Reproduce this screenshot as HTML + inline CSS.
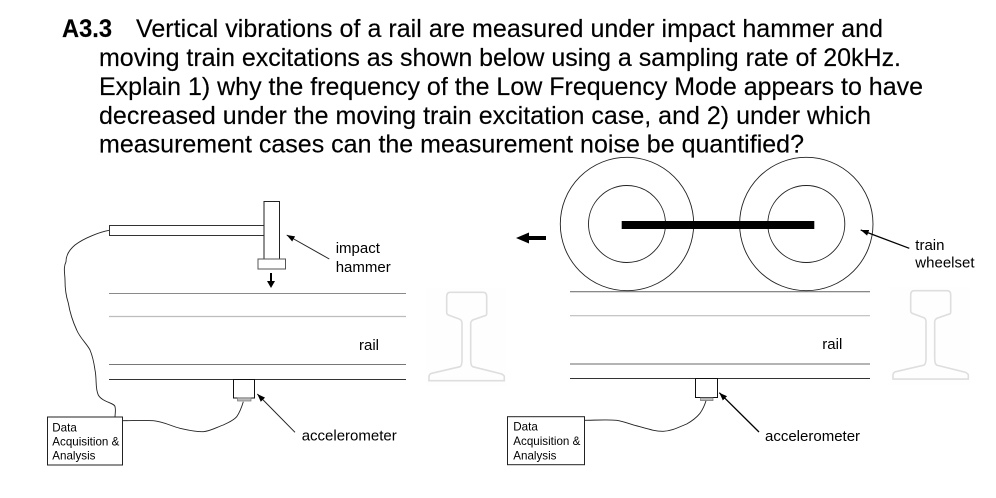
<!DOCTYPE html>
<html><head><meta charset="utf-8"><style>
html,body{margin:0;padding:0;background:#fff;width:996px;height:498px;overflow:hidden}
svg{display:block}
text{font-family:"Liberation Sans",sans-serif;fill:#000}
.t{font-size:25px;stroke:#000;stroke-width:.15px}
.l{font-size:15px}
.d{font-size:11.6px}
</style></head><body>
<svg width="996" height="498" viewBox="0 0 996 498" xmlns="http://www.w3.org/2000/svg">
<defs>
<marker id="a" markerWidth="9" markerHeight="8" refX="8" refY="3" orient="auto" markerUnits="userSpaceOnUse"><path d="M0,0L8,3L0,6z" fill="#000"/></marker>
</defs>
<text class="t" x="62" y="37" font-weight="bold" textLength="50" lengthAdjust="spacingAndGlyphs">A3.3</text>
<text class="t" x="136" y="37" textLength="747">Vertical vibrations of a rail are measured under impact hammer and</text>
<text class="t" x="99" y="66" textLength="802">moving train excitations as shown below using a sampling rate of 20kHz.</text>
<text class="t" x="99" y="95" textLength="824">Explain 1) why the frequency of the Low Frequency Mode appears to have</text>
<text class="t" x="99" y="124" textLength="772">decreased under the moving train excitation case, and 2) under which</text>
<text class="t" x="99" y="152.5" textLength="705">measurement cases can the measurement noise be quantified?</text>

<!-- rail cross sections -->
<rect x="426" y="288" width="80" height="98" fill="#fefefe"/>
<rect x="890" y="287" width="80" height="98" fill="#fefefe"/>
<g fill="none" stroke="#dedede" stroke-width="1.6">
<path d="M446.7,296.7Q446.7,292.3 450,292.3L483.3,292.3Q486.7,292.3 486.7,296.7L486.7,313.3Q486.7,315.7 485,315.7L472.7,320Q470.7,321.5 470.7,323.3L470.7,360Q470.7,365.5 472.7,366.7L501.7,374Q504.3,375.5 504.3,376.7L504.3,380.7L429,380.7L429,376Q430,373.5 431.7,373.3L460,366.7Q462,365.5 462,360L462,323.3Q462,320.5 460,319.3L448.3,315Q446.7,314 446.7,312.7Z"/>
<path transform="translate(464,-1.6)" d="M446.7,296.7Q446.7,292.3 450,292.3L483.3,292.3Q486.7,292.3 486.7,296.7L486.7,313.3Q486.7,315.7 485,315.7L472.7,320Q470.7,321.5 470.7,323.3L470.7,360Q470.7,365.5 472.7,366.7L501.7,374Q504.3,375.5 504.3,376.7L504.3,380.7L429,380.7L429,376Q430,373.5 431.7,373.3L460,366.7Q462,365.5 462,360L462,323.3Q462,320.5 460,319.3L448.3,315Q446.7,314 446.7,312.7Z"/>
</g>

<!-- rails -->
<g stroke-width="1" fill="none">
<path d="M109,293.5H406" stroke="#8a8a8a"/>
<path d="M109,316.5H406" stroke="#bdbdbd" stroke-width="1.2"/>
<path d="M109,364.5H406" stroke="#777"/>
<path d="M109,379.5H406" stroke="#333"/>
<path d="M570,291.7H870" stroke="#777" stroke-width="1.2"/>
<path d="M570,315.7H870" stroke="#bdbdbd" stroke-width="1.2"/>
<path d="M570,364H870" stroke="#888" stroke-width="1.2"/>
<path d="M570,378.5H870" stroke="#333"/>
</g>

<!-- hammer -->
<rect x="109.5" y="225.5" width="154.5" height="10" fill="#fff" stroke="#333"/>
<rect x="264" y="201.5" width="15.5" height="57.5" fill="#fff" stroke="#222"/>
<rect x="258" y="259" width="27.5" height="10" fill="#fff" stroke="#555"/>
<path d="M271,273V282" stroke="#000" stroke-width="2"/>
<path d="M267,281H275L271,288z" fill="#000"/>

<!-- accelerometers -->
<rect x="233.5" y="379.5" width="21" height="18.5" fill="#fff" stroke="#111"/>
<rect x="237.5" y="398" width="13.5" height="3" fill="#bbb" stroke="#777" stroke-width=".7"/>
<rect x="695.5" y="378.5" width="22" height="19" fill="#fff" stroke="#111"/>
<rect x="700.5" y="397.8" width="12.5" height="2.8" fill="#bbb" stroke="#777" stroke-width=".7"/>

<!-- cables -->
<g fill="none" stroke="#222" stroke-width=".9">
<path d="M109,230.3C100,232 84,238 75,245C69,250 66,255 66,261.7C63,268 65,274 65,280C65,288 66,296 68.3,303C70,313 73,322 76.7,330C80,338 87,344 90,350C93,357 94,363 95,370C97,380 95,388 98.3,395C102,402 115,403 115,406.7C116,410 115,414 115,417"/>
<path d="M121,420.7C132,420.7 143,420 153.3,420.7C163,421.5 171,426 180,428.3C188,430 195,432 203.3,431.7C211,431 217,427 223.3,425C229,422 233,421 236.7,416.7C240,412 242,406 243.3,401.7"/>
<path d="M582.7,420.3C594,420.3 606,419.5 616.7,420.3C625,421.5 632,425 640,426.7C648,429 656,431.5 663.3,431.3C672,431 679,427 686.7,424C692,421 697,417 700,413.3C703,409 705,404 706,400.7"/>
</g>

<!-- DAQ boxes -->
<rect x="47.5" y="417" width="75" height="48" fill="#fff" stroke="#222"/>
<rect x="507.5" y="416.7" width="77" height="48" fill="#fff" stroke="#222"/>
<text class="d" x="52.3" y="431.7">Data</text>
<text class="d" x="52.3" y="445.7">Acquisition &amp;</text>
<text class="d" x="52.3" y="459.3">Analysis</text>
<text class="d" x="513.3" y="430.7">Data</text>
<text class="d" x="513.3" y="445">Acquisition &amp;</text>
<text class="d" x="513.3" y="459.7">Analysis</text>

<!-- wheels -->
<g fill="none" stroke="#222" stroke-width=".9">
<circle cx="627" cy="224" r="66.7"/>
<circle cx="627" cy="224" r="38.5"/>
<circle cx="806.3" cy="224" r="66.7"/>
<circle cx="806.3" cy="224" r="38.5"/>
</g>
<rect x="621.7" y="221" width="192.6" height="8" fill="#000"/>
<path d="M546,238H527" stroke="#000" stroke-width="4"/>
<path d="M516,238L529,232.5V243.5z" fill="#000"/>

<!-- leaders -->
<g stroke="#222" fill="none">
<path d="M329.3,259L286.7,235" marker-end="url(#a)"/>
<path d="M295,432.3L257.3,394" marker-end="url(#a)"/>
<path d="M909.3,248.3L860.7,230" marker-end="url(#a)" stroke="#000" stroke-width="1.3"/>
<path d="M759,432L719.3,392.7" marker-end="url(#a)" stroke="#000" stroke-width="1.3"/>
</g>

<!-- labels -->
<text class="l" x="335.7" y="253">impact</text>
<text class="l" x="335.7" y="272">hammer</text>
<text class="l" x="359" y="350">rail</text>
<text class="l" x="301.7" y="440.7">accelerometer</text>
<text class="l" x="915.3" y="250">train</text>
<text class="l" x="915.3" y="267.3">wheelset</text>
<text class="l" x="822.3" y="349">rail</text>
<text class="l" x="765" y="441">accelerometer</text>
</svg>
</body></html>
